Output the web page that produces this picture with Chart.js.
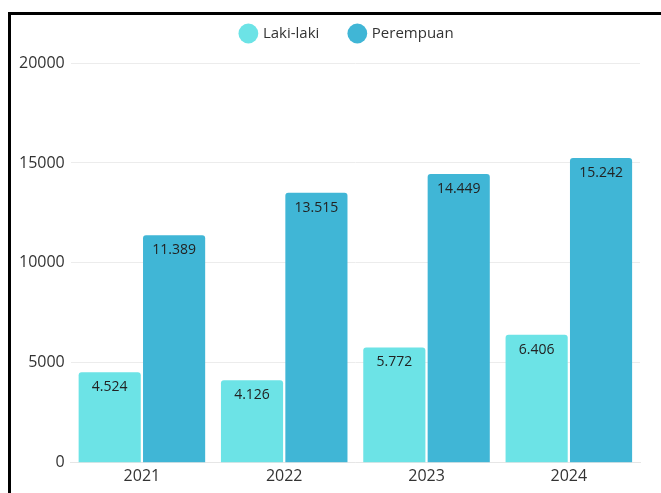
<!DOCTYPE html>
<html>
<head>
<meta charset="utf-8">
<script src="https://cdn.jsdelivr.net/npm/chart.js@4.4.1/dist/chart.umd.min.js"></script>
<style>
  html, body { margin: 0; padding: 0; background: #fff; }
  #wrap { position: relative; width: 661px; height: 493px; overflow: hidden; }
  #frame { position: absolute; left: 8px; top: 12px; right: -10px; bottom: -10px;
           border-top: 3px solid #000; border-left: 3px solid #000; pointer-events: none; }
</style>
</head>
<body>
<div id="wrap">
  <canvas id="barchart" width="661" height="493"></canvas>
  <div id="frame"></div>
</div>
<script>
// data
const years = ['2021', '2022', '2023', '2024'];
const lakiLaki = [4524, 4126, 5772, 6406];
const perempuan = [11389, 13515, 14449, 15242];
const yTicks = [0, 5000, 10000, 15000, 20000];

const lightColor = 'rgb(108, 227, 230)';
const darkColor = 'rgb(64, 182, 214)';

Chart.defaults.font.family = '"Open Sans", "Noto Sans", sans-serif';
Chart.defaults.color = '#333';

// titik sebagai pemisah ribuan
function fmt(v) {
  return String(v).replace(/\B(?=(\d{3})+(?!\d))/g, '.');
}

// label nilai di dalam batang
const valueLabels = {
  id: 'valueLabels',
  afterDatasetsDraw(chart) {
    const ctx = chart.ctx;
    ctx.save();
    ctx.font = '14px "Open Sans", "Noto Sans", sans-serif';
    ctx.fillStyle = '#222';
    ctx.textAlign = 'center';
    ctx.textBaseline = 'middle';
    chart.data.datasets.forEach((ds, i) => {
      chart.getDatasetMeta(i).data.forEach((bar, j) => {
        ctx.fillText(fmt(ds.data[j]), bar.x, bar.y + 15);
      });
    });
    ctx.restore();
  }
};

// ruang ekstra di bawah legenda, dan geser legenda sedikit
const legendSpace = {
  id: 'legendSpace',
  beforeInit(chart) {
    const orig = chart.legend.fit;
    chart.legend.fit = function () {
      orig.bind(chart.legend)();
      this.height += 15;
    };
  },
  afterLayout(chart) {
    chart.legend.left += 21;
    chart.legend.right += 21;
    chart.legend.top += 3;
    chart.legend.bottom += 3;
  }
};

new Chart(document.getElementById('barchart'), {
  type: 'bar',
  data: {
    labels: years,
    datasets: [
      { label: 'Laki-laki', data: lakiLaki, backgroundColor: lightColor, borderRadius: 3, borderSkipped: 'bottom' },
      { label: 'Perempuan', data: perempuan, backgroundColor: darkColor, borderRadius: 3, borderSkipped: 'bottom' }
    ]
  },
  options: {
    responsive: false,
    animation: false,
    layout: { padding: { left: 13, right: 21, top: -8, bottom: 11 } },
    datasets: { bar: { categoryPercentage: 0.905, barPercentage: 0.965 } },
    plugins: {
      legend: {
        labels: {
          usePointStyle: true,
          pointStyle: 'circle',
          boxWidth: 14,
          boxHeight: 14,
          padding: 31,
          font: { size: 15 },
          color: '#333'
        }
      },
      tooltip: { enabled: false }
    },
    scales: {
      x: {
        grid: { display: false },
        border: { color: '#e6e6e6' },
        ticks: { font: { size: 16 }, color: '#333', padding: -4 }
      },
      y: {
        min: 0,
        max: 20000,
        afterBuildTicks(axis) { axis.ticks = yTicks.map(v => ({ value: v })); },
        grid: { color: '#ececec', drawTicks: false },
        border: { display: false },
        ticks: { font: { size: 16 }, color: '#333', padding: 6, callback: v => String(v) }
      }
    }
  },
  plugins: [valueLabels, legendSpace]
});
</script>
</body>
</html>
